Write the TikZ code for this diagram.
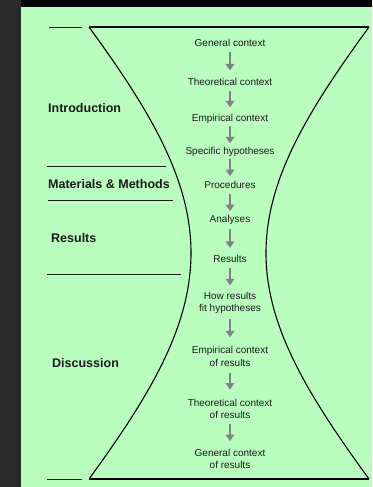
\documentclass[tikz,border=0pt]{standalone}
\usepackage{fontspec}
\setmainfont{Liberation Sans}
\usepackage{tikz}
\usetikzlibrary{arrows.meta,positioning}

\definecolor{bggreen}{RGB}{186,254,191}
\definecolor{stripgray}{RGB}{42,42,42}
\definecolor{flowgray}{RGB}{128,128,134}
\definecolor{inkgray}{RGB}{25,25,25}

\begin{document}
\begin{tikzpicture}[
    x=1pt, y=-1pt,
    stage/.style={inner sep=0pt, align=center, minimum height=9.5pt, font=\fontsize{10}{12.5}\selectfont, text=inkgray},
    stagetwo/.style={stage, minimum height=22pt},
    part/.style={anchor=west, inner sep=0pt, font=\fontsize{12.5}{15}\selectfont\bfseries, text=inkgray},
    arrow/.style={-{Triangle[length=6.5pt,width=8.5pt]}, line width=2.6pt, draw=flowgray, shorten <=4pt, shorten >=6.5pt},
    divider/.style={draw=inkgray, line width=0.8pt},
    outline/.style={draw=black, line width=1.1pt}
]
\useasboundingbox (0,0) rectangle (372,487);
% Background
\fill[bggreen] (0,0) rectangle (372,487);
\fill[stripgray] (0,0) rectangle (21,487);
\fill[black] (21,0) rectangle (372,7);

% Hourglass
\draw[outline] (89,27) -- (369,27);
\draw[outline] (89,479) -- (369,479);
\draw[outline] (89,27) .. controls (151,112) and (191,180) .. (191,253)
    .. controls (191,326) and (151,394) .. (89,479);
\draw[outline] (369,27) .. controls (307,112) and (266,180) .. (266,253)
    .. controls (266,326) and (307,394) .. (369,479);

% Section dividers
\draw[divider] (49,27) -- (82,27);
\draw[divider] (47,166) -- (166,166);
\draw[divider] (48,200) -- (173,200);
\draw[divider] (47,274) -- (181,274);
\draw[divider] (47,479) -- (82,479);

% Section labels
\node[part] (intro) at (48,108) {Introduction};
\node[part] (methods) at (48,184) {Materials \& Methods};
\node[part] (results) at (51,238) {Results};
\node[part] (discuss) at (52,363) {Discussion};

% Stages
\node[stage] (gen) at (230,43) {General context};
\node[stage, below=29pt of gen] (theo) {Theoretical context};
\node[stage, below=27pt of theo] (emp) {Empirical context};
\node[stage, below=23pt of emp] (hyp) {Specific hypotheses};
\node[stage, below=23pt of hyp] (proc) {Procedures};
\node[stage, below=25.5pt of proc] (anal) {Analyses};
\node[stage, below=29.5pt of anal] (res) {Results};
\node[stagetwo, below=27.5pt of res] (fit) {How results\\fit hypotheses};
\node[stagetwo, below=31pt of fit] (empres) {Empirical context\\of results};
\node[stagetwo, below=30pt of empres] (theores) {Theoretical context\\of results};
\node[stagetwo, below=27.5pt of theores] (genres) {General context\\of results};

% Arrows
\draw[arrow] (gen) -- (theo);
\draw[arrow] (theo) -- (emp);
\draw[arrow, shorten <=2.5pt, shorten >=3.5pt] (emp) -- (hyp);
\draw[arrow, shorten <=2.5pt, shorten >=3.5pt] (hyp) -- (proc);
\draw[arrow, shorten >=4pt] (proc) -- (anal);
\draw[arrow] (anal) -- (res);
\draw[arrow] (res) -- (fit);
\draw[arrow, shorten <=5pt, shorten >=8pt] (fit) -- (empres);
\draw[arrow, shorten <=5pt, shorten >=8pt] (empres) -- (theores);
\draw[arrow] (theores) -- (genres);
\end{tikzpicture}
\end{document}
